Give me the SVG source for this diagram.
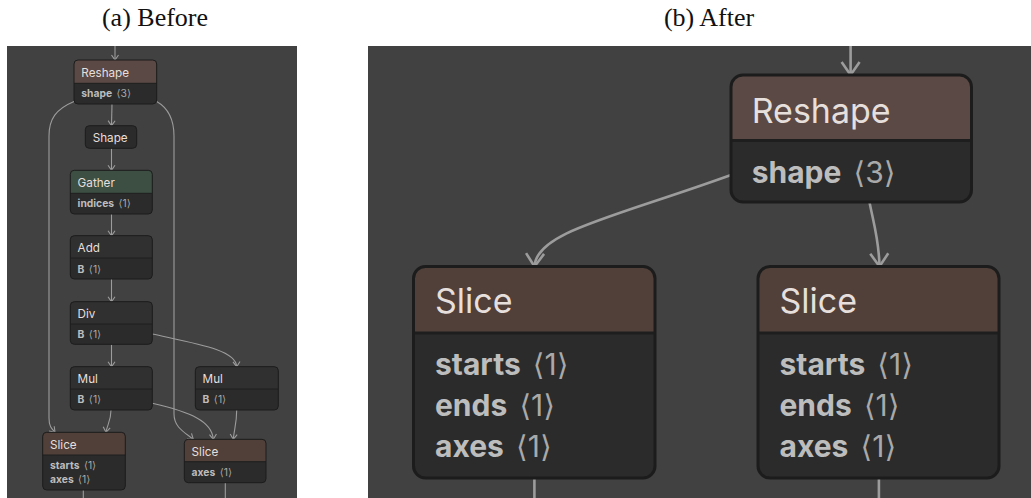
<svg xmlns="http://www.w3.org/2000/svg" width="1031" height="498" viewBox="0 0 1031 498">
  <defs>
    <style>
      .caption { font-family: "Liberation Serif", "Times New Roman", serif; font-size: 26px; fill: #111; text-anchor: middle; }
      .panel { fill: #414141; }
      .body { fill: #2b2b2b; }
      .hdr-brown { fill: #5a4944; }
      .hdr-slice { fill: #504039; }
      .hdr-green { fill: #3d4f43; }
      .hdr-dark { fill: #303030; }
      .outline { fill: none; stroke: #1c1c1c; }
      .divider { stroke: #1e1e1e; }
      .edge { fill: none; stroke: #9c9c9c; }
      .edge-sm { stroke-width: 1.1; }
      .edge-lg { stroke-width: 2.6; }
      .title { font-family: Inter, "Noto Sans", "DejaVu Sans", sans-serif; fill: #e6dfdb; }
      .attr { font-family: Inter, "Noto Sans", "DejaVu Sans", sans-serif; font-weight: bold; fill: #bdbdbd; }
      .val { font-weight: normal; fill: #a9a9a9; }
      .sm .title { font-size: 11.7px; }
      .sm .attr { font-size: 10.3px; }
      .sm .outline { stroke-width: 1; }
      .sm .divider { stroke-width: 1; }
      .lg .title { font-size: 34px; }
      .lg .attr { font-size: 30px; }
      .lg .outline { stroke-width: 3; }
      .lg .divider { stroke-width: 3; }
    </style>
    <marker id="arrow-sm" markerUnits="userSpaceOnUse" orient="auto" refX="0" refY="0" overflow="visible">
      <path d="M-5,-3.5 L0,0 L-5,3.5" fill="none" stroke="#9c9c9c" stroke-width="1.1"/>
    </marker>
    <marker id="arrow-lg" markerUnits="userSpaceOnUse" orient="auto" refX="0" refY="0" overflow="visible">
      <path d="M-13,-9 L0,0 L-13,9" fill="none" stroke="#9c9c9c" stroke-width="2.6"/>
    </marker>
  </defs>

  <rect width="1031" height="498" fill="#ffffff"/>

  <text class="caption" x="155" y="26">(a) Before</text>
  <text class="caption" x="709" y="26">(b) After</text>

  <!-- left panel: original graph -->
  <g id="panel-before" class="sm">
    <rect class="panel" x="7" y="46" width="290" height="452"/>

    <g id="edges-before">
      <path class="edge edge-sm" d="M115,46 L115,60" marker-end="url(#arrow-sm)"/>
      <path class="edge edge-sm" d="M112,104 L111.5,125.7" marker-end="url(#arrow-sm)"/>
      <path class="edge edge-sm" d="M111.5,148.3 L111.5,170.3" marker-end="url(#arrow-sm)"/>
      <path class="edge edge-sm" d="M111.5,214 L111.5,235.7" marker-end="url(#arrow-sm)"/>
      <path class="edge edge-sm" d="M111.5,279 L111.5,301.7" marker-end="url(#arrow-sm)"/>
      <path class="edge edge-sm" d="M111.5,344.3 L111.5,366.7" marker-end="url(#arrow-sm)"/>
      <path class="edge edge-sm" d="M74,101.5 C56,109 49,119 49,136 L49,418 C49,427 52,429 55,432.3" marker-end="url(#arrow-sm)"/>
      <path class="edge edge-sm" d="M156.7,101.5 C168,108 174,118 174,136 L174,414 C174,427 184,432 193.3,439.3" marker-end="url(#arrow-sm)"/>
      <path class="edge edge-sm" d="M152.3,334 C198,344 236,350 236.7,366.7" marker-end="url(#arrow-sm)"/>
      <path class="edge edge-sm" d="M111,410 C111,421 107,425 106,432.3" marker-end="url(#arrow-sm)"/>
      <path class="edge edge-sm" d="M152.3,403.3 C190,412 212,421 213.3,439.3" marker-end="url(#arrow-sm)"/>
      <path class="edge edge-sm" d="M236.7,410 C236.7,424 234,430 233.3,439.3" marker-end="url(#arrow-sm)"/>
      <path class="edge edge-sm" d="M83.3,490 L83.3,498"/>
      <path class="edge edge-sm" d="M225.3,482.7 L225.3,498"/>
    </g>

    <g id="a-reshape">
      <rect class="body" x="74" y="60" width="82.7" height="44" rx="4"/>
      <path class="hdr-brown" d="M74,83.3 V64 a4,4 0 0 1 4,-4 H152.7 a4,4 0 0 1 4,4 V83.3 Z"/>
      <line class="divider" x1="74" y1="83.3" x2="156.7" y2="83.3"/>
      <rect class="outline" x="74" y="60" width="82.7" height="44" rx="4"/>
      <text class="title" x="81.3" y="76.7">Reshape</text>
      <text class="attr" x="81.3" y="96.7">shape <tspan class="val" dx="2">⟨3⟩</tspan></text>
    </g>

    <g id="a-shape">
      <rect class="body" x="85.3" y="125.7" width="51.4" height="22.6" rx="4"/>
      <rect class="outline" x="85.3" y="125.7" width="51.4" height="22.6" rx="4"/>
      <text class="title" x="92.7" y="142.3">Shape</text>
    </g>

    <g id="a-gather">
      <rect class="body" x="70.3" y="170.3" width="82" height="43.7" rx="4"/>
      <path class="hdr-green" d="M70.3,193.3 V174.3 a4,4 0 0 1 4,-4 H148.3 a4,4 0 0 1 4,4 V193.3 Z"/>
      <line class="divider" x1="70.3" y1="193.3" x2="152.3" y2="193.3"/>
      <rect class="outline" x="70.3" y="170.3" width="82" height="43.7" rx="4"/>
      <text class="title" x="77.6" y="186.8">Gather</text>
      <text class="attr" x="77.6" y="206.7">indices <tspan class="val" dx="2">⟨1⟩</tspan></text>
    </g>

    <g id="a-add">
      <rect class="body" x="70.3" y="235.7" width="82" height="43.3" rx="4"/>
      <path class="hdr-dark" d="M70.3,258 V239.7 a4,4 0 0 1 4,-4 H148.3 a4,4 0 0 1 4,4 V258 Z"/>
      <line class="divider" x1="70.3" y1="258" x2="152.3" y2="258"/>
      <rect class="outline" x="70.3" y="235.7" width="82" height="43.3" rx="4"/>
      <text class="title" x="77.6" y="252.2">Add</text>
      <text class="attr" x="77.6" y="272.7">B <tspan class="val" dx="2">⟨1⟩</tspan></text>
    </g>

    <g id="a-div">
      <rect class="body" x="70.3" y="301.7" width="82" height="42.6" rx="4"/>
      <path class="hdr-dark" d="M70.3,324 V305.7 a4,4 0 0 1 4,-4 H148.3 a4,4 0 0 1 4,4 V324 Z"/>
      <line class="divider" x1="70.3" y1="324" x2="152.3" y2="324"/>
      <rect class="outline" x="70.3" y="301.7" width="82" height="42.6" rx="4"/>
      <text class="title" x="77.6" y="318">Div</text>
      <text class="attr" x="77.6" y="338">B <tspan class="val" dx="2">⟨1⟩</tspan></text>
    </g>

    <g id="a-mul-1">
      <rect class="body" x="70.3" y="366.7" width="82" height="43.3" rx="4"/>
      <path class="hdr-dark" d="M70.3,389 V370.7 a4,4 0 0 1 4,-4 H148.3 a4,4 0 0 1 4,4 V389 Z"/>
      <line class="divider" x1="70.3" y1="389" x2="152.3" y2="389"/>
      <rect class="outline" x="70.3" y="366.7" width="82" height="43.3" rx="4"/>
      <text class="title" x="77.6" y="383.3">Mul</text>
      <text class="attr" x="77.6" y="403.3">B <tspan class="val" dx="2">⟨1⟩</tspan></text>
    </g>

    <g id="a-mul-2">
      <rect class="body" x="195.3" y="366.7" width="83" height="43.3" rx="4"/>
      <path class="hdr-dark" d="M195.3,389 V370.7 a4,4 0 0 1 4,-4 H274.3 a4,4 0 0 1 4,4 V389 Z"/>
      <line class="divider" x1="195.3" y1="389" x2="278.3" y2="389"/>
      <rect class="outline" x="195.3" y="366.7" width="83" height="43.3" rx="4"/>
      <text class="title" x="202.6" y="383.3">Mul</text>
      <text class="attr" x="202.6" y="403.3">B <tspan class="val" dx="2">⟨1⟩</tspan></text>
    </g>

    <g id="a-slice-1">
      <rect class="body" x="42.7" y="432.3" width="82.6" height="57.7" rx="4"/>
      <path class="hdr-slice" d="M42.7,455 V436.3 a4,4 0 0 1 4,-4 H121.3 a4,4 0 0 1 4,4 V455 Z"/>
      <line class="divider" x1="42.7" y1="455" x2="125.3" y2="455"/>
      <rect class="outline" x="42.7" y="432.3" width="82.6" height="57.7" rx="4"/>
      <text class="title" x="50" y="448.6">Slice</text>
      <text class="attr" x="50" y="468.7">starts <tspan class="val" dx="2">⟨1⟩</tspan></text>
      <text class="attr" x="50" y="482.7">axes <tspan class="val" dx="2">⟨1⟩</tspan></text>
    </g>

    <g id="a-slice-2">
      <rect class="body" x="184.3" y="439.3" width="81.7" height="43.4" rx="4"/>
      <path class="hdr-slice" d="M184.3,461.7 V443.3 a4,4 0 0 1 4,-4 H262 a4,4 0 0 1 4,4 V461.7 Z"/>
      <line class="divider" x1="184.3" y1="461.7" x2="266" y2="461.7"/>
      <rect class="outline" x="184.3" y="439.3" width="81.7" height="43.4" rx="4"/>
      <text class="title" x="191.6" y="455.8">Slice</text>
      <text class="attr" x="191.6" y="475.7">axes <tspan class="val" dx="2">⟨1⟩</tspan></text>
    </g>
  </g>

  <!-- right panel: simplified graph -->
  <g id="panel-after" class="lg">
    <rect class="panel" x="368" y="46" width="663" height="452"/>

    <g id="edges-after">
      <path class="edge edge-lg" d="M850.6,46 L850.6,75" marker-end="url(#arrow-lg)"/>
      <path class="edge edge-lg" d="M731,175 C612,218 536,232 534.5,266.5" marker-end="url(#arrow-lg)"/>
      <path class="edge edge-lg" d="M869.6,202.7 C874,225 879,240 879.5,266.5" marker-end="url(#arrow-lg)"/>
      <path class="edge edge-lg" d="M534.4,478.5 L534.4,498"/>
      <path class="edge edge-lg" d="M878.9,478.5 L878.9,498"/>
    </g>

    <g id="b-reshape">
      <rect class="body" x="731" y="75" width="240.5" height="127" rx="12"/>
      <path class="hdr-brown" d="M731,140.5 V87 a12,12 0 0 1 12,-12 H959.5 a12,12 0 0 1 12,12 V140.5 Z"/>
      <line class="divider" x1="731" y1="140.5" x2="971.5" y2="140.5"/>
      <rect class="outline" x="731" y="75" width="240.5" height="127" rx="12"/>
      <text class="title" x="751.7" y="123.3">Reshape</text>
      <text class="attr" x="751.7" y="183.3">shape <tspan class="val" dx="5">⟨3⟩</tspan></text>
    </g>

    <g id="b-slice-1">
      <rect class="body" x="413.5" y="266.5" width="241.5" height="211.5" rx="12"/>
      <path class="hdr-slice" d="M413.5,333 V278.5 a12,12 0 0 1 12,-12 H643 a12,12 0 0 1 12,12 V333 Z"/>
      <line class="divider" x1="413.5" y1="333" x2="655" y2="333"/>
      <rect class="outline" x="413.5" y="266.5" width="241.5" height="211.5" rx="12"/>
      <text class="title" x="435" y="313.3">Slice</text>
      <text class="attr" x="435" y="375">starts <tspan class="val" dx="5">⟨1⟩</tspan></text>
      <text class="attr" x="435" y="416">ends <tspan class="val" dx="5">⟨1⟩</tspan></text>
      <text class="attr" x="435" y="456.7">axes <tspan class="val" dx="5">⟨1⟩</tspan></text>
    </g>

    <g id="b-slice-2">
      <rect class="body" x="758" y="266.5" width="241" height="211.5" rx="12"/>
      <path class="hdr-slice" d="M758,333 V278.5 a12,12 0 0 1 12,-12 H987 a12,12 0 0 1 12,12 V333 Z"/>
      <line class="divider" x1="758" y1="333" x2="999" y2="333"/>
      <rect class="outline" x="758" y="266.5" width="241" height="211.5" rx="12"/>
      <text class="title" x="779.5" y="313.3">Slice</text>
      <text class="attr" x="779.5" y="375">starts <tspan class="val" dx="5">⟨1⟩</tspan></text>
      <text class="attr" x="779.5" y="416">ends <tspan class="val" dx="5">⟨1⟩</tspan></text>
      <text class="attr" x="779.5" y="456.7">axes <tspan class="val" dx="5">⟨1⟩</tspan></text>
    </g>
  </g>
</svg>
